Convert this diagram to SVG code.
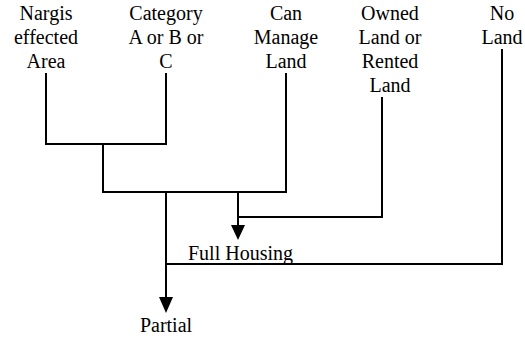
<svg xmlns="http://www.w3.org/2000/svg" width="525" height="339" viewBox="0 0 525 339">
<style>
text{font-family:"Liberation Serif","Times New Roman",serif;font-size:20px;fill:#000;text-anchor:middle}
.c{fill:none;stroke:#000;stroke-width:2}
.h{fill:#000;stroke:none}
</style>
<rect width="525" height="339" fill="#fff"/>
<g id="n-nargis"><text x="46" y="20">Nargis</text><text x="46" y="44">effected</text><text x="46" y="68">Area</text></g>
<g id="n-category"><text x="166" y="20">Category</text><text x="166" y="44">A or B or</text><text x="166" y="68">C</text></g>
<g id="n-manage"><text x="286" y="20">Can</text><text x="286" y="44">Manage</text><text x="286" y="68">Land</text></g>
<g id="n-owned"><text x="390" y="20">Owned</text><text x="390" y="44">Land or</text><text x="390" y="68">Rented</text><text x="390" y="92">Land</text></g>
<g id="n-noland"><text x="502" y="20">No</text><text x="502" y="44">Land</text></g>
<g id="n-full"><text x="188" y="260" style="text-anchor:start">Full Housing</text></g>
<g id="n-partial"><text x="166" y="332">Partial</text></g>
<g id="connectors">
<path class="c" d="M46 73V144H166V73M103 144V192H286V73"/>
<path class="c" d="M238 192V226M382 97V217H238"/>
<path class="c" d="M166 192V298M502 49V264H166"/>
<path class="h" d="M231 225H245L238 240Z"/>
<path class="h" d="M159 297H173L166 313Z"/>
</g>
</svg>
